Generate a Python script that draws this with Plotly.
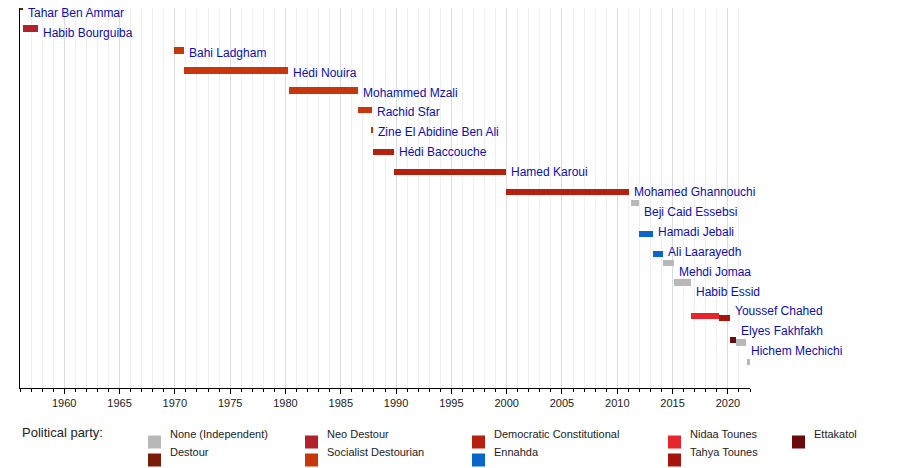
import plotly.graph_objects as go

names = ["Tahar Ben Ammar", "Habib Bourguiba", "Bahi Ladgham", "Hédi Nouira", "Mohammed Mzali",
         "Rachid Sfar", "Zine El Abidine Ben Ali", "Hédi Baccouche", "Hamed Karoui",
         "Mohamed Ghannouchi", "Beji Caid Essebsi", "Hamadi Jebali", "Ali Laarayedh",
         "Mehdi Jomaa", "Habib Essid", "Youssef Chahed", "Elyes Fakhfakh", "Hichem Mechichi",
         "Najla Bouden Romdhane"]
# segments: (row, start, end, party)
segments = [
    (0, 1956.0, 1956.25, "Destour"),
    (1, 1956.25, 1957.6, "Neo Destour"),
    (2, 1969.9, 1970.85, "Socialist Destourian"),
    (3, 1970.85, 1980.2, "Socialist Destourian"),
    (4, 1980.3, 1986.55, "Socialist Destourian"),
    (5, 1986.55, 1987.8, "Socialist Destourian"),
    (6, 1987.8, 1987.9, "Socialist Destourian"),
    (7, 1987.9, 1989.8, "Democratic Constitutional"),
    (8, 1989.8, 1999.9, "Democratic Constitutional"),
    (9, 1999.9, 2011.1, "Democratic Constitutional"),
    (10, 2011.2, 2011.98, "None (Independent)"),
    (11, 2011.98, 2013.2, "Ennahda"),
    (12, 2013.2, 2014.1, "Ennahda"),
    (13, 2014.1, 2015.1, "None (Independent)"),
    (14, 2015.1, 2016.7, "None (Independent)"),
    (15, 2016.7, 2019.2, "Nidaa Tounes"),
    (15, 2019.2, 2020.2, "Tahya Tounes"),
    (16, 2020.2, 2020.7, "Ettakatol"),
    (17, 2020.7, 2021.65, "None (Independent)"),
    (18, 2021.75, 2022.1, "None (Independent)"),
]
parties = ["None (Independent)", "Destour", "Neo Destour", "Socialist Destourian",
           "Democratic Constitutional", "Ennahda", "Nidaa Tounes", "Tahya Tounes", "Ettakatol"]
colors = {"None (Independent)": "#b8b8b8", "Destour": "#7a1c0a", "Neo Destour": "#b1222c",
          "Socialist Destourian": "#c8360c", "Democratic Constitutional": "#b5200f",
          "Ennahda": "#0b66c9", "Nidaa Tounes": "#e8252d", "Tahya Tounes": "#a8150f",
          "Ettakatol": "#6b0a0d"}

fig = go.Figure()
for p in parties:
    seg = [s for s in segments if s[3] == p]
    if not seg:
        continue
    fig.add_trace(go.Bar(orientation="h", y=[s[0] for s in seg], x=[s[2] - s[1] for s in seg],
                         base=[s[1] for s in seg], width=0.32, marker_color=colors[p],
                         marker_line_width=0, showlegend=False, name=p))

ends = {}
for r, a, b, p in segments:
    ends[r] = max(ends.get(r, 0), b)
for i, n in enumerate(names):
    fig.add_annotation(x=ends[i], y=i, text=n, xanchor="left", xshift=3, showarrow=False,
                       font=dict(color="#0d0db0", size=12))


# page pixel -> paper coords (plot area spans x 20..750, y 8..388 on the page)
def px(x):
    return (x - 20) / 730


def py(y):
    return (388 - y) / 380


fig.add_annotation(x=px(20), y=py(442), xref="paper", yref="paper", text="Political party:",
                   showarrow=False, xanchor="left", font=dict(size=13, color="#222"))
legend_cols = [148, 305, 472, 668, 792]
legend_order = [("None (Independent)", 0, 0), ("Destour", 0, 1), ("Neo Destour", 1, 0),
                ("Socialist Destourian", 1, 1), ("Democratic Constitutional", 2, 0),
                ("Ennahda", 2, 1), ("Nidaa Tounes", 3, 0), ("Tahya Tounes", 3, 1), ("Ettakatol", 4, 0)]
for p, c, rr in legend_order:
    x0 = legend_cols[c]
    yc = 442 + rr * 18
    fig.add_shape(type="rect", xref="paper", yref="paper", x0=px(x0), x1=px(x0 + 13),
                  y0=py(yc + 6.5), y1=py(yc - 6.5), fillcolor=colors[p], line_width=0)
    fig.add_annotation(xref="paper", yref="paper", x=px(x0 + 20), y=py(yc),
                       text=p, showarrow=False, xanchor="left", font=dict(size=11, color="#222"))

fig.update_layout(
    width=900, height=468, margin=dict(l=12, r=158, t=0, b=88),
    plot_bgcolor="white", paper_bgcolor="white", bargap=0,
    font=dict(family="Liberation Sans, Arial, sans-serif", size=11, color="#222"),
    xaxis=dict(range=[1956, 2022], dtick=5, tick0=1960, showgrid=True, gridcolor="#dcdcdc",
               ticks="outside", ticklen=5, tickcolor="black", showline=True, linecolor="black",
               zeroline=False,
               minor=dict(dtick=1, showgrid=True, gridcolor="#efefef", ticks="outside",
                          ticklen=3, tickcolor="black")),
    yaxis=dict(range=[18.85, -0.25], showticklabels=False, showgrid=False, zeroline=False,
               showline=True, linecolor="black"),
)
fig.write_html("out.html")
